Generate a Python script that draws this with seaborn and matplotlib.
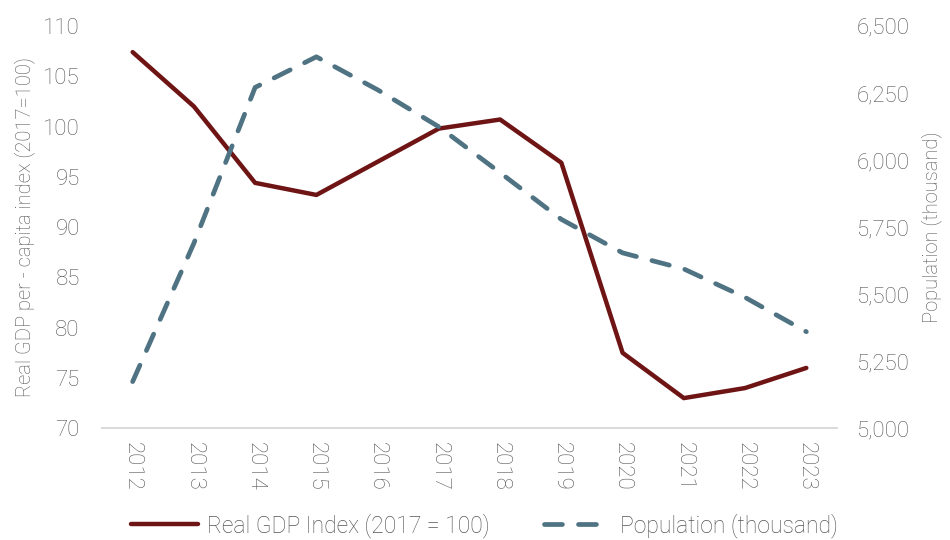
import matplotlib
matplotlib.use("Agg")
import matplotlib.pyplot as plt
import matplotlib.ticker as mticker
import pandas as pd
import seaborn as sns

# values
years = [2012, 2013, 2014, 2015, 2016, 2017, 2018, 2019, 2020, 2021, 2022, 2023]
gdp_index = [107.4, 102.0, 94.4, 93.2, 96.5, 99.8, 100.7, 96.4, 77.5, 73.0, 74.0, 76.0]
population = [5174, 5690, 6271, 6385, 6262, 6124, 5953, 5779, 5654, 5594, 5488, 5360]

gdp_label = "Real GDP Index (2017 = 100)"
pop_label = "Population (thousand)"
left_ylabel = "Real GDP per - capita index (2017=100)"
right_ylabel = "Population (thousand)"

RED = "#6E1414"
BLUE = "#4F7383"
GREY = "#555555"

sns.set_theme(style="white")
plt.rcParams["font.family"] = ["Roboto", "DejaVu Sans"]
plt.rcParams["font.weight"] = "light"
plt.rcParams["axes.labelweight"] = "light"

df = pd.DataFrame({"year": years, "gdp": gdp_index, "pop": population})

fig = plt.figure(figsize=(9.5, 5.4), dpi=100)
ax = fig.add_axes([0.1074, 0.2069, 0.7736, 0.745])
ax2 = ax.twinx()

sns.lineplot(data=df, x="year", y="gdp", ax=ax, color=RED, lw=3.2,
             label=gdp_label, legend=False)
sns.lineplot(data=df, x="year", y="pop", ax=ax2, color=BLUE, lw=3.4,
             label=pop_label, legend=False, dashes=False)
ax2.lines[0].set_dashes([3.8, 3.4])
ax2.lines[0].set_dash_capstyle("round")
ax.lines[0].set_solid_capstyle("round")

ax.set_xlim(2011.5, 2023.5)
ax.set_ylim(70, 110)
ax2.set_ylim(5000, 6500)
ax.set_xticks(years)
ax.set_xticklabels([str(y) for y in years], rotation=-90)
ax.set_yticks(range(70, 111, 5))
ax2.set_yticks(range(5000, 6501, 250))
ax2.yaxis.set_major_formatter(mticker.StrMethodFormatter("{x:,.0f}"))

for a in (ax, ax2):
    for side in ("top", "left", "right"):
        a.spines[side].set_visible(False)
    a.spines["bottom"].set_color("#D9D9D9")
    a.spines["bottom"].set_linewidth(1.2)
    a.tick_params(length=0, labelsize=16, colors=GREY)
    a.grid(False)
ax.tick_params(axis="y", pad=16)
ax.tick_params(axis="x", pad=10)
ax2.tick_params(axis="y", pad=14)

ax.set_xlabel("")
ax.set_ylabel(left_ylabel, fontsize=14.5, color=GREY, labelpad=6, fontweight="light")
ax2.set_ylabel(right_ylabel, fontsize=14.5, color=GREY, labelpad=8, fontweight="light")

handles = ax.lines[:1] + ax2.lines[:1]
fig.legend(handles, [gdp_label, pop_label], loc="center", ncol=2,
           bbox_to_anchor=(0.51, 0.027), frameon=False, fontsize=16.5,
           handlelength=2.9, columnspacing=2.4, handletextpad=0.4,
           labelcolor=GREY)

fig.savefig("out.png", dpi=100)
